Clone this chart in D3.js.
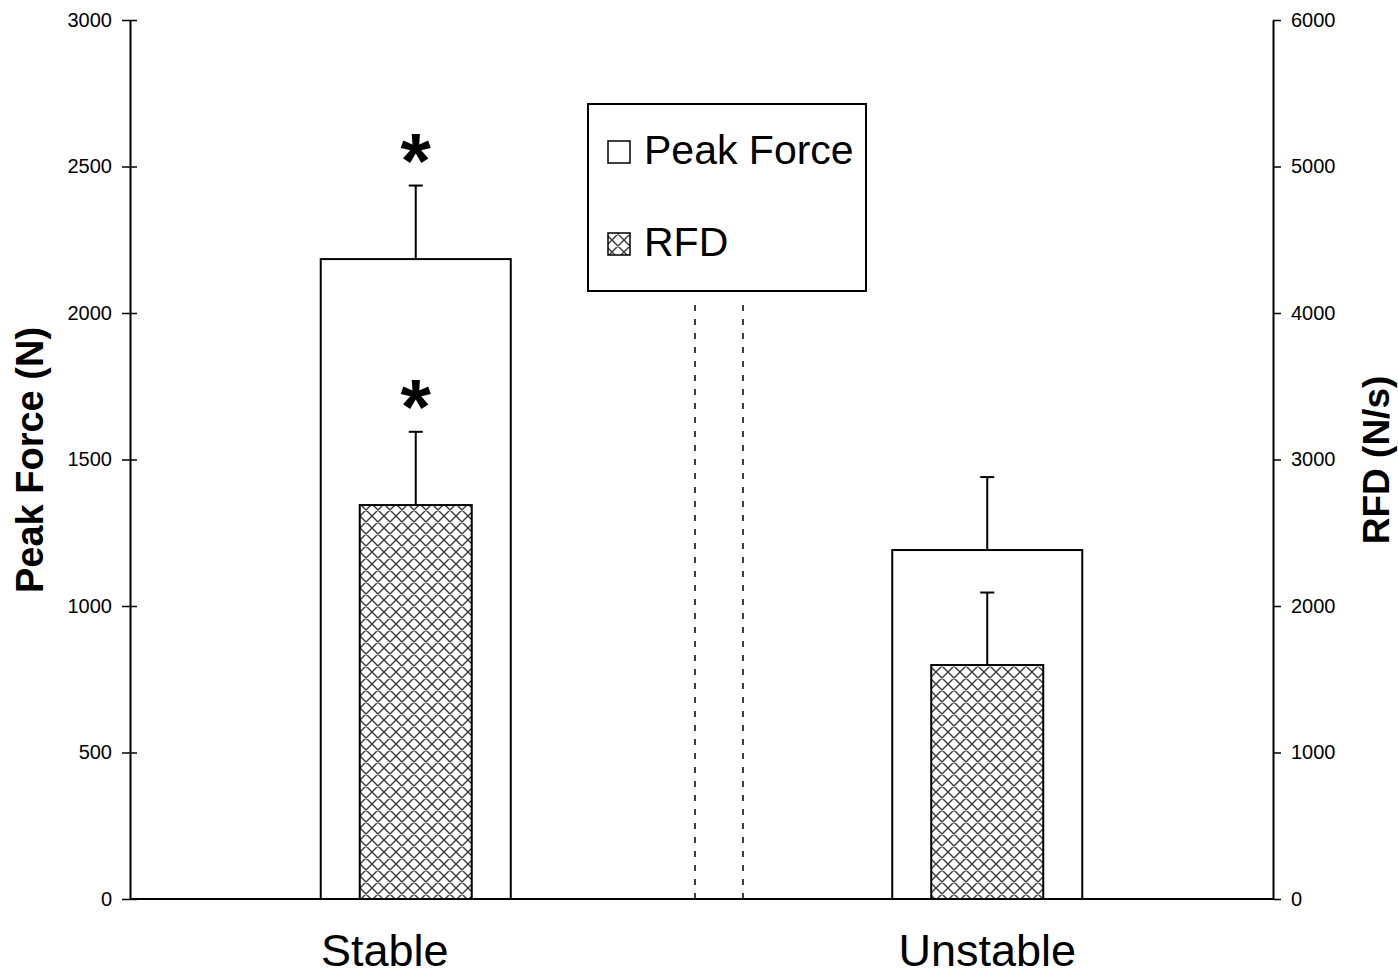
<!DOCTYPE html>
<html>
<head>
<meta charset="utf-8">
<script src="https://cdn.jsdelivr.net/npm/d3@7/dist/d3.min.js"></script>
<style>
  html, body { margin: 0; padding: 0; background: #fff; }
  svg { display: block; }
  text { font-family: "Liberation Sans", Arial, sans-serif; fill: #000; }
</style>
</head>
<body>
<svg id="chart" width="1398" height="975"></svg>
<script>
// Conditions on the x axis
const conditions = ["Stable", "Unstable"];
// Peak force (N), left axis
const peakForce = [2184, 1191];
const peakForceSD = [251, 249];
// Rate of force development (N/s), right axis
const rfd = [2689, 1597];
const rfdSD = [500, 495];
// Significance markers per condition
const peakForceSig = [true, false];
const rfdSig = [true, false];
// Axis ticks
const leftTicks = [0, 500, 1000, 1500, 2000, 2500, 3000];
const rightTicks = [0, 1000, 2000, 3000, 4000, 5000, 6000];

const svg = d3.select("#chart");
const plotL = 130, plotR = 1273, plotT = 20, plotB = 899;

const x = d3.scaleBand().domain(conditions).range([plotL, plotR]).padding(0);
const yL = d3.scaleLinear().domain([0, 3000]).range([plotB, plotT]);
const yR = d3.scaleLinear().domain([0, 6000]).range([plotB, plotT]);

const pfWidth = x.bandwidth() * 0.3325;
const rfdWidth = x.bandwidth() * 0.196;

// Crosshatch fill for RFD bars
const defs = svg.append("defs");
const pat = defs.append("pattern")
  .attr("id", "hatch").attr("patternUnits", "userSpaceOnUse")
  .attr("width", 12).attr("height", 12);
pat.append("rect").attr("width", 12).attr("height", 12).attr("fill", "#fff");
pat.append("path").attr("d", "M0,0 L12,12 M12,0 L0,12 M-1,11 L1,13 M11,-1 L13,1 M-1,1 L1,-1 M11,13 L13,11")
  .attr("stroke", "#3a3a3a").attr("stroke-width", 1.4);

const fmt = d3.format("d");

// Left axis
const gL = svg.append("g").attr("transform", `translate(${plotL},0)`)
  .call(d3.axisLeft(yL).tickValues(leftTicks).tickFormat(fmt).tickSizeInner(8).tickSizeOuter(0).tickPadding(10));
gL.selectAll(".tick line").attr("x1", 7).attr("stroke", "#000").attr("stroke-width", 1.5);
gL.select(".domain").attr("stroke", "#000").attr("stroke-width", 2);
gL.selectAll(".tick text").style("font-size", "20px").attr("fill", "#000");

// Right axis
const gR = svg.append("g").attr("transform", `translate(${plotR},0)`)
  .call(d3.axisRight(yR).tickValues(rightTicks).tickFormat(fmt).tickSizeInner(8).tickSizeOuter(0).tickPadding(10));
gR.selectAll(".tick line").attr("stroke", "#000").attr("stroke-width", 1.5);
gR.select(".domain").attr("stroke", "#000").attr("stroke-width", 2);
gR.selectAll(".tick text").style("font-size", "20px").attr("fill", "#000");

// Baseline
svg.append("line").attr("x1", plotL).attr("x2", plotR)
  .attr("y1", yL(0)).attr("y2", yL(0)).attr("stroke", "#000").attr("stroke-width", 2);

// Dashed separators between conditions
[695, 743].forEach(dx => {
  svg.append("line").attr("x1", dx).attr("x2", dx)
    .attr("y1", 305).attr("y2", yL(0))
    .attr("stroke", "#000").attr("stroke-width", 1.5).attr("stroke-dasharray", "6,8");
});

const cx = d => x(d) + x.bandwidth() / 2;

// Error bars (upper whisker only)
function errorBar(g, xc, yTop, yEnd) {
  g.append("line").attr("x1", xc).attr("x2", xc).attr("y1", yTop).attr("y2", yEnd)
    .attr("stroke", "#000").attr("stroke-width", 2);
  g.append("line").attr("x1", xc - 7).attr("x2", xc + 7).attr("y1", yEnd).attr("y2", yEnd)
    .attr("stroke", "#000").attr("stroke-width", 2);
}

// Peak force bars
const pfG = svg.append("g");
conditions.forEach((c, i) => {
  errorBar(pfG, cx(c), yL(peakForce[i]), yL(peakForce[i] + peakForceSD[i]));
});
pfG.selectAll("rect").data(conditions).join("rect")
  .attr("x", d => cx(d) - pfWidth / 2)
  .attr("width", pfWidth)
  .attr("y", (d, i) => yL(peakForce[i]))
  .attr("height", (d, i) => yL(0) - yL(peakForce[i]))
  .attr("fill", "#fff").attr("stroke", "#000").attr("stroke-width", 2);

// RFD bars
const rG = svg.append("g");
conditions.forEach((c, i) => {
  errorBar(rG, cx(c), yR(rfd[i]), yR(rfd[i] + rfdSD[i]));
});
rG.selectAll("rect").data(conditions).join("rect")
  .attr("x", d => cx(d) - rfdWidth / 2)
  .attr("width", rfdWidth)
  .attr("y", (d, i) => yR(rfd[i]))
  .attr("height", (d, i) => yR(0) - yR(rfd[i]))
  .attr("fill", "url(#hatch)").attr("stroke", "#000").attr("stroke-width", 2);

// Significance asterisks
conditions.forEach((c, i) => {
  if (peakForceSig[i]) {
    svg.append("text").attr("x", cx(c)).attr("y", yL(peakForce[i] + peakForceSD[i]) + 2)
      .attr("text-anchor", "middle").style("font-size", "78px").style("font-weight", "bold").text("*");
  }
  if (rfdSig[i]) {
    svg.append("text").attr("x", cx(c)).attr("y", yR(rfd[i] + rfdSD[i]) + 2)
      .attr("text-anchor", "middle").style("font-size", "78px").style("font-weight", "bold").text("*");
  }
});

// Category labels
const labelShift = [-31, 0];
svg.selectAll(".cat").data(conditions).join("text").attr("class", "cat")
  .attr("x", (d, i) => cx(d) + labelShift[i]).attr("y", 966)
  .attr("text-anchor", "middle").style("font-size", "45px").text(d => d);

// Axis titles
svg.append("text").attr("transform", "translate(43,460) rotate(-90)")
  .attr("text-anchor", "middle").style("font-size", "38px").style("font-weight", "bold")
  .text("Peak Force (N)");
svg.append("text").attr("transform", "translate(1389,460) rotate(-90)")
  .attr("text-anchor", "middle").style("font-size", "37px").style("font-weight", "bold")
  .text("RFD (N/s)");

// Legend
const lg = svg.append("g");
lg.append("rect").attr("x", 588).attr("y", 104).attr("width", 278).attr("height", 187)
  .attr("fill", "#fff").attr("stroke", "#000").attr("stroke-width", 2);
lg.append("rect").attr("x", 608).attr("y", 141).attr("width", 22).attr("height", 22)
  .attr("fill", "#fff").attr("stroke", "#000").attr("stroke-width", 1.5);
lg.append("text").attr("x", 644).attr("y", 164).style("font-size", "41px").text("Peak Force");
lg.append("rect").attr("x", 608).attr("y", 233).attr("width", 22).attr("height", 22)
  .attr("fill", "url(#hatch)").attr("stroke", "#000").attr("stroke-width", 1.5);
lg.append("text").attr("x", 644).attr("y", 256).style("font-size", "41px").text("RFD");
</script>
</body>
</html>
